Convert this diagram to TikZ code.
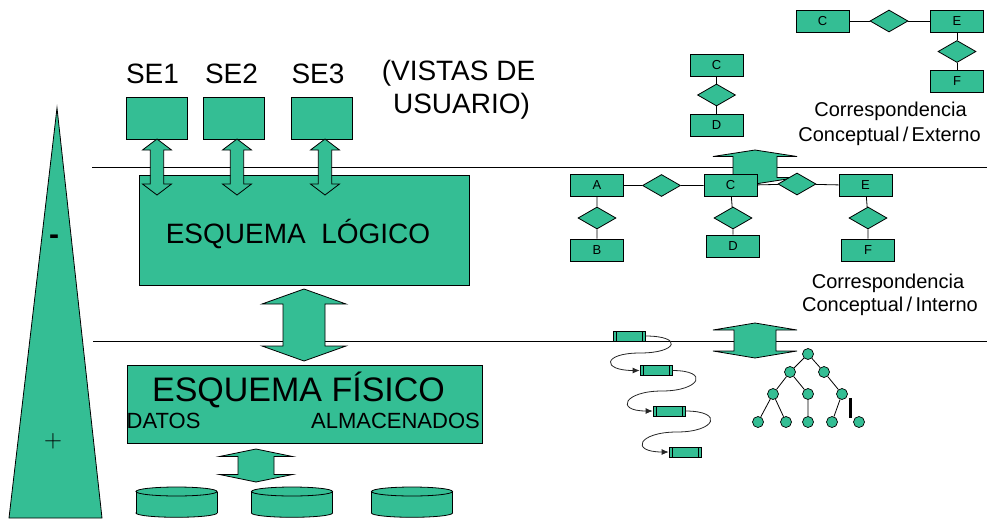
\documentclass[tikz,border=0pt]{standalone}
\usepackage{fontspec}
\setmainfont{Liberation Sans}
\usetikzlibrary{arrows.meta,shapes.geometric,positioning}
\definecolor{esqgreen}{RGB}{52,190,148}

\begin{document}
\begin{tikzpicture}[x=1pt, y=-1pt,
    every node/.style={inner sep=0pt},
    fs/.style={font=\fontsize{#1}{#1}\selectfont},
    box/.style={draw, fill=esqgreen, line width=0.9pt},
    ent/.style={box, line width=0.8pt, minimum width=53pt, minimum height=22pt, fs=13},
    rel/.style={diamond, draw, fill=esqgreen, line width=0.8pt, minimum width=38pt, minimum height=22pt},
    rec/.style={box, line width=0.7pt, minimum width=32pt, minimum height=10pt,
      path picture={\draw[line width=0.7pt]
        ([xshift=3pt]path picture bounding box.north west) -- ([xshift=3pt]path picture bounding box.south west)
        ([xshift=-3pt]path picture bounding box.north east) -- ([xshift=-3pt]path picture bounding box.south east);}},
    leaf/.style={circle, draw, fill=esqgreen, line width=0.7pt, minimum size=11pt},
    link/.style={line width=0.8pt}]
  \useasboundingbox (0,0) rectangle (987,519);

  % levels and the - / + wedge
  \draw[line width=0.9pt] (92,167) -- (987,167)  (93,341) -- (987,341);
  \filldraw[box, line width=0.8pt] (57,108) -- (102,518) -- (9,518) -- cycle;
  \node[fs=30, anchor=base] (menos) at (54,244) {\bfseries -};
  \node[fs=27, anchor=base] (mas)   at (53,447) {$+$};

  % external schemas
  \foreach \n/\x/\lx in {1/156.5/152.5, 2/234/231.5, 3/321.5/318} {
    \node[box, minimum width=61pt, minimum height=42pt] (se\n) at (\x,118) {};
    \node[fs=28, anchor=base] (se\n txt) at (\lx,83) {SE\n};
  }
  \node[fs=28, anchor=base] (vistas)  at (458.5,81) {(VISTAS DE};
  \node[fs=28, anchor=base] (usuario) at (461.5,113) {USUARIO)};

  \node[box, minimum width=330pt, minimum height=110pt] (logico) at (304,230) {};
  \node[fs=28, anchor=base] (logicotxt) at (298,243.3) {ESQUEMA\ \ LÓGICO};

  \node[box, minimum width=355pt, minimum height=78pt] (fisico) at (304.5,404) {};
  \node[fs=34, anchor=base] (fisicotxt) at (298.5,401.7) {ESQUEMA FÍSICO};
  \node[fs=22, anchor=base west] (datos) at (126.5,428.3) {DATOS};
  \node[fs=22, anchor=base east] (almac) at (480,428.3) {ALMACENADOS};

  % disks
  \foreach \x in {176.5,292,412} {
    \filldraw[box, line width=0.8pt] (\x,513) ellipse (40.5 and 4.3);
    \fill[esqgreen] ({\x-40.5},491.5) rectangle ({\x+40.5},513);
    \draw[line width=0.8pt] ({\x-40.5},491.5) -- ({\x-40.5},513)  ({\x+40.5},491.5) -- ({\x+40.5},513);
    \filldraw[box, line width=0.8pt] (\x,491.5) ellipse (40.5 and 4.5);
  }

  % double block arrows: x / top tip / bottom tip / head half / shaft half / head length
  \foreach \x/\ya/\yb/\h/\s/\l in {157/139/195/14.5/6.7/11, 237/139/195/14.5/6.7/11,
      325/139/195/14.5/6.7/11, 304/289/361/42/21/15, 256/449/482/36.5/18/7.5,
      755/150/184/42/22/6.5, 755/323/358/42/21/7}
    \filldraw[box, line width=0.8pt] (\x,\ya) -- ({\x+\h},{\ya+\l}) -- ({\x+\s},{\ya+\l})
      -- ({\x+\s},{\yb-\l}) -- ({\x+\h},{\yb-\l}) -- (\x,\yb) -- ({\x-\h},{\yb-\l})
      -- ({\x-\s},{\yb-\l}) -- ({\x-\s},{\ya+\l}) -- ({\x-\h},{\ya+\l}) -- cycle;

  % external views
  \node[ent] (tC)   at (822.5,21) {C};
  \node[rel] (tRce) at (889,21)   {};
  \node[ent] (tE)   at (957,21)   {E};
  \node[rel] (tRef) at (957,51.5) {};
  \node[ent] (tF)   at (957,81.5) {F};
  \draw[link] (tC) -- (tRce) -- (tE) -- (tRef) -- (tF);
  \node[fs=20, anchor=base] (ext1) at (890.5,116.5) {Correspondencia};
  \node[fs=20, anchor=base] (ext2) at (889.5,141.5) {Conceptual\,/\,Externo};

  \node[ent] (mC) at (716.5,65)  {C};
  \node[rel] (mR) at (716.5,95)  {};
  \node[ent] (mD) at (716.5,125.5) {D};
  \draw[link] (mC) -- (mR) -- (mD);

  % conceptual schema
  \node[ent] (A)   at (597,185.5) {A};
  \node[rel] (rAC) at (661.5,185.5) {};
  \node[ent] (C)   at (730.5,185.5) {C};
  \node[rel] (rCE) at (797,184) {};
  \node[ent] (E)   at (865.5,185.5) {E};
  \node[rel] (rAB) at (597,218) {};
  \node[ent] (B)   at (597,250) {B};
  \node[rel] (rCD) at (733,218) {};
  \node[ent] (D)   at (733,246) {D};
  \node[rel] (rEF) at (868,218) {};
  \node[ent] (F)   at (868,250) {F};
  \draw[link] (A) -- (rAC) -- (C) -- (rCE) -- (E)
              (A) -- (rAB) -- (B)
              (C) -- (rCD) -- (D)
              (E) -- (rEF) -- (F);
  \node[fs=20, anchor=base] (int1) at (888,288)   {Correspondencia};
  \node[fs=20, anchor=base] (int2) at (890,311.5) {Conceptual\,/\,Interno};

  % internal: chained records and tree
  \node[rec] (r1) at (629,336) {};
  \node[rec] (r2) at (656,370.5) {};
  \node[rec] (r3) at (669,411) {};
  \node[rec] (r4) at (685,452) {};
  \draw[link, black!85, -{Latex[length=7pt,width=6pt]}]
    (r1.east) .. controls +(38,0) and +(38,0) .. (640,353) .. controls +(-38,0) and +(-38,0) .. (r2.west);
  \draw[link, black!85, -{Latex[length=7pt,width=6pt]}]
    (r2.east) .. controls +(38,0) and +(38,0) .. (662,391) .. controls +(-38,0) and +(-38,0) .. (r3.west);
  \draw[link, black!85, -{Latex[length=7pt,width=6pt]}]
    (r3.east) .. controls +(39,0) and +(39,0) .. (677,432) .. controls +(-39,0) and +(-39,0) .. (r4.west);

  \node[leaf] (t0)  at (808,354) {};
  \node[leaf] (t1)  at (790,372) {};
  \node[leaf] (t2)  at (824,372) {};
  \node[leaf] (t3)  at (773,394) {};
  \node[leaf] (t4)  at (808,394) {};
  \node[leaf] (t5)  at (842,394) {};
  \node[leaf] (t6)  at (758,422) {};
  \node[leaf] (t7)  at (786,422) {};
  \node[leaf] (t8)  at (808,422) {};
  \node[leaf] (t9)  at (832,422) {};
  \node[leaf] (t10) at (859,422) {};
  \draw[link] (t0) -- (t1)  (t0) -- (t2)  (t1) -- (t3)  (t1) -- (t4)  (t2) -- (t5)
              (t3) -- (t6)  (t3) -- (t7)  (t4) -- (t8)  (t5) -- (t9);
  \draw[line width=3pt] (850,398) -- (850,418);
\end{tikzpicture}
\end{document}
